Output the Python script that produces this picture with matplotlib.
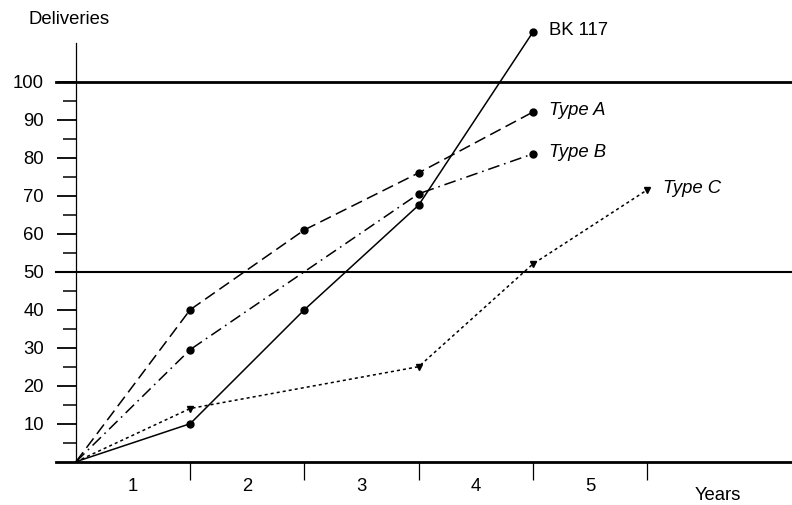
import matplotlib
matplotlib.use("Agg")
import matplotlib.pyplot as plt
from matplotlib.ticker import FixedLocator, NullFormatter, FixedFormatter

plt.rcParams['font.family'] = ['Liberation Sans', 'DejaVu Sans']
plt.rcParams['lines.scale_dashes'] = False

# ---- data ----
series_names = ["BK 117", "Type A", "Type B", "Type C"]
years_bk = [0, 1, 2, 3, 4]
deliveries_bk = [0, 10, 40, 67.5, 113]
years_a = [0, 1, 2, 3, 4]
deliveries_a = [0, 40, 61, 76, 92]
years_b = [0, 1, 3, 4]
deliveries_b = [0, 29.5, 70.5, 81]
years_c = [0, 1, 3, 4, 5]
deliveries_c = [0, 14, 25, 52, 71.5]
year_labels = ["1", "2", "3", "4", "5"]
y_tick_values = [10, 20, 30, 40, 50, 60, 70, 80, 90, 100]
ref_lines = [50, 100]

FS = 13.3
W, H = 792, 505
fig = plt.figure(figsize=(W / 100, H / 100), dpi=100)
x0px, y0px = 76, 461.7
px_per_year = 114.2
px_per_unit = 3.8
top_px = 43
ax = fig.add_axes([x0px / W, (H - y0px) / H, (W - x0px) / W, (y0px - top_px) / H])
ax.set_xlim(0, (W - x0px) / px_per_year)
ax.set_ylim(0, (y0px - top_px) / px_per_unit)

for s in ["top", "right"]:
    ax.spines[s].set_visible(False)
ax.spines["left"].set_linewidth(0.9)
ax.spines["bottom"].set_visible(False)

# y ticks
ax.yaxis.set_major_locator(FixedLocator(y_tick_values))
ax.yaxis.set_minor_locator(FixedLocator([v - 5 for v in y_tick_values]))
ax.tick_params(axis="y", which="major", direction="out", length=13.7, width=1.3,
               labelsize=FS, pad=9.5)
ax.tick_params(axis="y", which="minor", direction="out", length=9.4, width=1.1)

# x ticks: boundaries at 1..5, labels centred between
ax.xaxis.set_major_locator(FixedLocator([1, 2, 3, 4, 5]))
ax.xaxis.set_major_formatter(NullFormatter())
ax.xaxis.set_minor_locator(FixedLocator([i + 0.5 for i in range(len(year_labels))]))
ax.xaxis.set_minor_formatter(FixedFormatter(year_labels))
ax.tick_params(axis="x", which="major", direction="out", length=13, width=0.9)
ax.tick_params(axis="x", which="minor", length=0, labelsize=FS, pad=12)

# baseline and reference lines extending left of axis
ext = -20 / px_per_year
ax.plot([ext, ax.get_xlim()[1]], [0, 0], color="black", lw=2.0, clip_on=False, zorder=3)
for r in ref_lines:
    ax.plot([ext, ax.get_xlim()[1]], [r, r], color="black",
            lw=2.0 if r == 100 else 1.5, clip_on=False, zorder=3)

lw = 1.1
ax.plot(years_bk, deliveries_bk, color="black", lw=lw, linestyle="-",
        marker="o", ms=5, markevery=list(range(1, len(years_bk))), clip_on=False)
ax.plot(years_a, deliveries_a, color="black", lw=lw, linestyle=(0, (8.5, 4)),
        marker="o", ms=5, markevery=list(range(1, len(years_a))), clip_on=False)
ax.plot(years_b, deliveries_b, color="black", lw=lw, linestyle=(0, (8.5, 3.5, 1.2, 3.5)),
        marker="o", ms=5, markevery=list(range(1, len(years_b))), clip_on=False)
ax.plot(years_c, deliveries_c, color="black", lw=lw, linestyle=(0, (2.2, 2.2)),
        marker="v", ms=4.5, markevery=list(range(1, len(years_c))), clip_on=False)

ends = [(years_bk[-1], deliveries_bk[-1]), (years_a[-1], deliveries_a[-1]),
        (years_b[-1], deliveries_b[-1]), (years_c[-1], deliveries_c[-1])]
for name, (ex, ey) in zip(series_names, ends):
    ax.annotate(name, (ex, ey), xytext=(11.5, 1), textcoords="offset points",
                ha="left", va="center", fontsize=FS, annotation_clip=False,
                style="normal" if name == "BK 117" else "italic")

fig.text(28 / W, 1 - 20 / H, "Deliveries", ha="left", va="center", fontsize=FS)
fig.text(718 / W, 1 - 495 / H, "Years", ha="center", va="center", fontsize=FS)

fig.savefig("out.png", dpi=100)
